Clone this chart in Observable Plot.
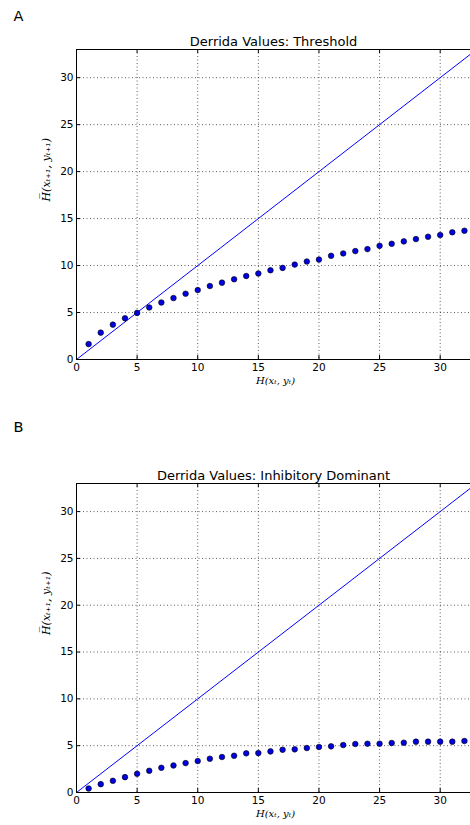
<!DOCTYPE html>
<html><head><meta charset="utf-8">
<script src="https://cdn.jsdelivr.net/npm/d3@7"></script>
<script src="https://cdn.jsdelivr.net/npm/@observablehq/plot@0.6"></script>
<style>body{margin:0;background:#fff;} svg{display:block;}</style>
</head><body><div id="chart"></div>
<script>
const hValues = [1,2,3,4,5,6,7,8,9,10,11,12,13,14,15,16,17,18,19,20,21,22,23,24,25,26,27,28,29,30,31,32];
const thresholdValues = [1.64,2.86,3.71,4.39,4.96,5.54,6.07,6.54,7.0,7.39,7.82,8.18,8.54,8.89,9.16,9.5,9.75,10.1,10.43,10.64,11.04,11.29,11.54,11.75,12.1,12.32,12.57,12.82,13.07,13.25,13.54,13.71];
const inhibitoryValues = [0.43,0.89,1.25,1.64,2.0,2.32,2.64,2.89,3.14,3.36,3.61,3.79,3.93,4.18,4.21,4.39,4.57,4.61,4.75,4.86,4.93,5.07,5.18,5.21,5.21,5.29,5.32,5.43,5.43,5.43,5.43,5.5];
const xTicks = [0,5,10,15,20,25,30];
const yTicks = [0,5,10,15,20,25,30];
const xDomain = [0, 32.5];
const yDomain = [0, 33];
const panels = [
  {letter: "A", title: "Derrida Values: Threshold", values: thresholdValues, height: 400, marginTop: 49, marginBottom: 41},
  {letter: "B", title: "Derrida Values: Inhibitory Dominant", values: inhibitoryValues, height: 425, marginTop: 83, marginBottom: 33}
];
const xLabel = "H(x\u209C, y\u209C)";
const yLabel = "H\u0305(x\u209C\u208A\u2081, y\u209C\u208A\u2081)";

function makePanel(p) {
  const width = 470, marginLeft = 76, marginRight = 0;
  const fw = width - marginLeft - marginRight;
  const fh = p.height - p.marginTop - p.marginBottom;
  const pts = hValues.map((h, i) => ({x: h, y: p.values[i]}));
  const diag = [0, yDomain[1]].map(v => ({x: v, y: v}));
  return Plot.plot({
    width, height: p.height, marginLeft, marginRight,
    marginTop: p.marginTop, marginBottom: p.marginBottom,
    style: {fontFamily: "DejaVu Sans", fontSize: "10.5px", background: "#fff", overflow: "visible"},
    x: {domain: xDomain, axis: null},
    y: {domain: yDomain, axis: null},
    marks: [
      Plot.gridX(xTicks, {stroke: "#000", strokeOpacity: 0.8, strokeWidth: 0.8, strokeDasharray: "1,2.5"}),
      Plot.gridY(yTicks, {stroke: "#000", strokeOpacity: 0.8, strokeWidth: 0.8, strokeDasharray: "1,2.5"}),
      Plot.line(diag, {x: "x", y: "y", stroke: "#0000ff", strokeWidth: 1, clip: true}),
      Plot.dot(pts, {x: "x", y: "y", r: 2.8, fill: "#0000e0", stroke: "#000", strokeWidth: 0.6}),
      Plot.tickX(xTicks, {x: d => d, stroke: "#000", insetTop: fh - 4}),
      Plot.tickX(xTicks, {x: d => d, stroke: "#000", insetBottom: fh - 4}),
      Plot.tickY(yTicks, {y: d => d, stroke: "#000", insetRight: fw - 4}),
      Plot.frame({anchor: "top", stroke: "#000", strokeWidth: 1}),
      Plot.frame({anchor: "bottom", stroke: "#000", strokeWidth: 1}),
      Plot.frame({anchor: "left", stroke: "#000", strokeWidth: 1}),
      Plot.axisX(xTicks, {tickSize: 0, tickPadding: 4, fill: "#000", label: null}),
      Plot.axisY(yTicks, {tickSize: 0, tickPadding: 3, fill: "#000", label: null}),
      Plot.text([p.title], {frameAnchor: "top", dy: -4, lineAnchor: "bottom", fontSize: 13, fill: "#000"}),
      Plot.text([p.letter], {frameAnchor: "top-left", dx: -63, dy: p.letter === "A" ? -29 : -52, lineAnchor: "bottom", textAnchor: "start", fontSize: 14.5, fill: "#000"}),
      Plot.text([xLabel], {frameAnchor: "bottom", dy: 21, dx: 2, lineAnchor: "middle", fontFamily: "DejaVu Serif", fontStyle: "italic", fontSize: 10, fill: "#000"}),
      Plot.text([yLabel], {frameAnchor: "left", dx: -30, dy: -3, rotate: -90, lineAnchor: "middle", fontFamily: "DejaVu Serif", fontStyle: "italic", fontSize: 11, fill: "#000"})
    ]
  });
}
const root = document.getElementById("chart");
panels.forEach(p => root.appendChild(makePanel(p)));
</script>
</body></html>
